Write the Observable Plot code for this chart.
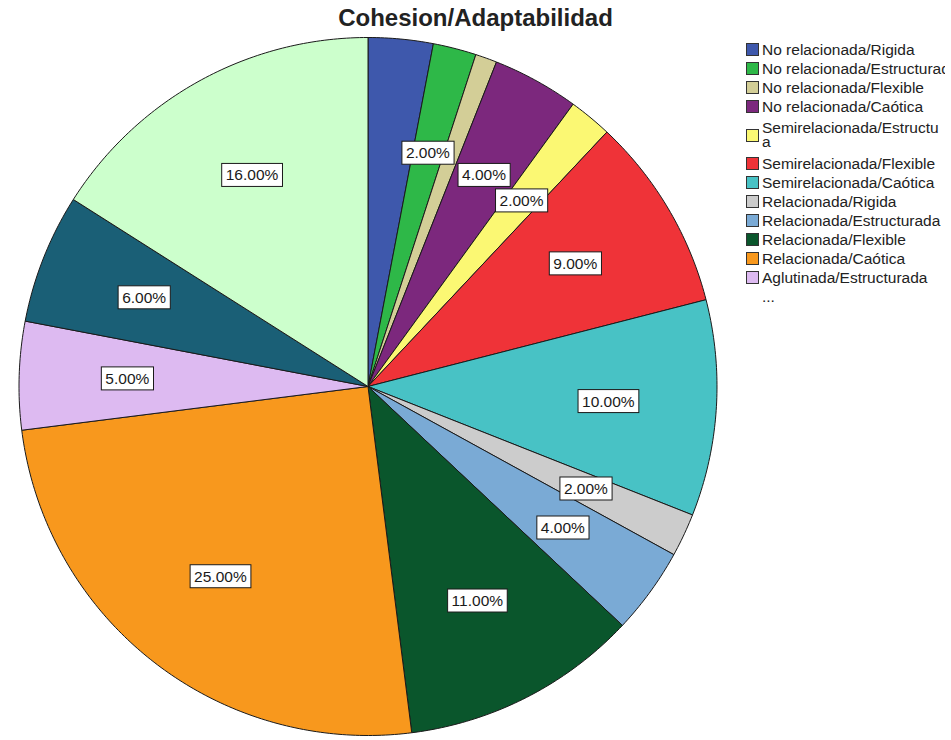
<!DOCTYPE html>
<html><head><meta charset="utf-8">
<script src="https://cdn.jsdelivr.net/npm/d3@7"></script>
<script src="https://cdn.jsdelivr.net/npm/@observablehq/plot@0.6"></script>
<style>
body{margin:0;background:#fff;overflow:hidden;font-family:"Liberation Sans",Arial,sans-serif}
#wrap{position:relative;width:951px;height:740px;overflow:hidden}
#chart{position:absolute;left:0;top:0}
#title{position:absolute;left:0;width:951px;top:4px;text-align:center;font-weight:bold;font-size:24px;color:#222}
#legend{position:absolute;left:746px;top:40px;width:199px;overflow:hidden;font-size:15.5px;color:#222;white-space:pre}
.item{display:flex;align-items:center;height:19px}
.item.two{height:38px;line-height:14px}
.sw{width:11px;height:11px;border:1px solid #333;margin-right:3px;flex:none}
</style></head>
<body>
<div id="wrap">
  <div id="chart"></div>
  <div id="title"></div>
  <div id="legend"></div>
</div>
<script>
const title = "Cohesion/Adaptabilidad";
const categories = [
  "No relacionada/Rigida","No relacionada/Estructurada","No relacionada/Flexible","No relacionada/Caótica",
  "Semirelacionada/Estructurada","Semirelacionada/Flexible","Semirelacionada/Caótica",
  "Relacionada/Rigida","Relacionada/Estructurada","Relacionada/Flexible","Relacionada/Caótica",
  "Aglutinada/Estructurada","Aglutinada/Flexible","Aglutinada/Caótica"
];
const values = [3, 2, 1, 4, 2, 9, 10, 2, 4, 11, 25, 5, 6, 16];
const colors = ["#3e58ac","#2eb848","#d3ce97","#7c287d","#fbf873","#ef3338","#48c2c5",
  "#cccccc","#7aaad5","#0a562c","#f8981d","#ddbaf1","#1a5f76","#ccffcc"];
const labelled = [false,true,false,true,true,true,true,true,true,true,true,true,true,true];
const legendLabels = [
  "No relacionada/Rigida","No relacionada/Estructurada","No relacionada/Flexible","No relacionada/Caótica",
  "Semirelacionada/Estructu\na","Semirelacionada/Flexible","Semirelacionada/Caótica",
  "Relacionada/Rigida","Relacionada/Estructurada","Relacionada/Flexible","Relacionada/Caótica",
  "Aglutinada/Estructurada"
];
const legendMore = "...";

const rows = categories.map((name, i) => ({name, value: values[i], labelled: labelled[i]}));
const arcs = d3.pie().sort(null).value(d => d.value)(rows);

const pts = [];
for (const a of arcs) {
  const n = Math.max(4, Math.ceil((a.endAngle - a.startAngle) * 80));
  pts.push({name: a.data.name, x: 0, y: 0});
  for (let k = 0; k <= n; k++) {
    const t = a.startAngle + (a.endAngle - a.startAngle) * k / n;
    pts.push({name: a.data.name, x: Math.sin(t), y: Math.cos(t)});
  }
  pts.push({name: a.data.name, x: 0, y: 0});
}
const lr = 0.69;
const labels = arcs.filter(a => a.data.labelled).map(a => {
  const m = (a.startAngle + a.endAngle) / 2;
  return {x: lr * Math.sin(m), y: lr * Math.cos(m), text: d3.format(".2f")(a.data.value) + "%"};
});

const R = 349, cx = 367.5, cy = 386;
const plot = Plot.plot({
  width: 951, height: 740, margin: 0,
  style: {fontFamily: "'Liberation Sans', Arial, sans-serif", background: "transparent"},
  x: {domain: [-1, 1], range: [cx - R, cx + R], axis: null},
  y: {domain: [-1, 1], range: [cy + R, cy - R], axis: null},
  color: {domain: categories, range: colors},
  marks: [
    Plot.line(pts, {x: "x", y: "y", z: "name", fill: "name", stroke: "#1a1a1a", strokeWidth: 1, strokeLinejoin: "round", curve: "linear"}),
    Plot.text(labels, {x: "x", y: "y", text: "text", fontSize: 15.5, fill: "#1a1a1a", className: "pielabel"})
  ]
});
document.getElementById("chart").appendChild(plot);

// white boxes behind pie labels
const ns = "http://www.w3.org/2000/svg";
plot.querySelectorAll(".pielabel text").forEach(t => {
  const b = t.getBBox();
  const r = document.createElementNS(ns, "rect");
  r.setAttribute("x", b.x - 4); r.setAttribute("y", b.y - 3);
  r.setAttribute("width", b.width + 8); r.setAttribute("height", b.height + 6);
  r.setAttribute("fill", "white"); r.setAttribute("stroke", "#1a1a1a"); r.setAttribute("stroke-width", 1);
  if (t.getAttribute("transform")) r.setAttribute("transform", t.getAttribute("transform"));
  t.parentNode.insertBefore(r, t);
});

document.getElementById("title").textContent = title;
const leg = document.getElementById("legend");
legendLabels.forEach((lab, i) => {
  const it = document.createElement("div");
  it.className = "item" + (lab.includes("\n") ? " two" : "");
  const sw = document.createElement("div");
  sw.className = "sw"; sw.style.background = colors[i];
  const tx = document.createElement("div");
  tx.textContent = lab;
  it.appendChild(sw); it.appendChild(tx);
  leg.appendChild(it);
});
const more = document.createElement("div");
more.className = "item"; more.style.paddingLeft = "16px"; more.textContent = legendMore;
leg.appendChild(more);
</script>
</body></html>
